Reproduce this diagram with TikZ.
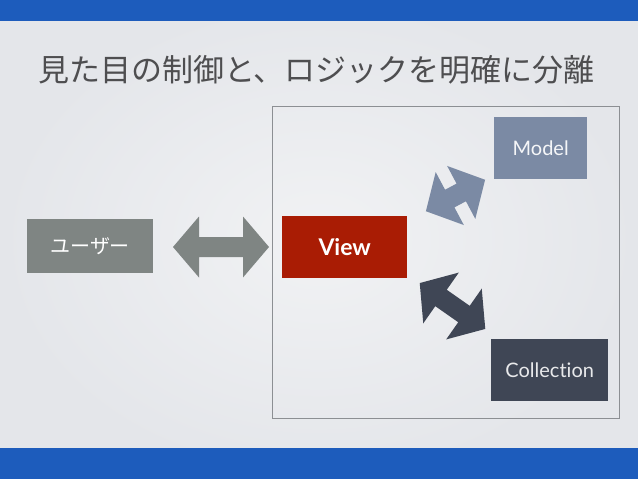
\documentclass[tikz,border=0pt]{standalone}
\usepackage{fontspec}
\setmainfont{Lato}[Ligatures={NoCommon}]
\newfontfamily\jp{Noto Sans CJK JP}
\definecolor{barblue}{HTML}{1D5CBC}
\definecolor{bgin}{HTML}{F1F2F4}
\definecolor{bgout}{HTML}{E4E6EA}
\definecolor{usergray}{HTML}{7F8583}
\definecolor{viewred}{HTML}{A91C04}
\definecolor{modelblue}{HTML}{7B8AA4}
\definecolor{colldark}{HTML}{3F4655}
\definecolor{titlegray}{HTML}{4E4E50}
\definecolor{framegray}{HTML}{8C8F93}
\tikzset{
  boxnode/.style={inner sep=0pt, anchor=north west, text=white},
  dblarrow/.style={fill=#1, draw=none}
}
\newcommand{\dblarr}[8]{% name, cx, cy, angle, L, h, w, color
  \coordinate (#1) at (#2,#3);
  \begin{scope}[shift={(#1)}, rotate=#4]
    \pgfmathsetmacro{\hL}{#5/2}
    \pgfmathsetmacro{\aa}{#5/2-#6}
    \fill[dblarrow=#8] (\hL,0) -- (\aa,#7) -- (\aa,10) -- (-\aa,10) -- (-\aa,#7) -- (-\hL,0)
      -- (-\aa,-#7) -- (-\aa,-10) -- (\aa,-10) -- (\aa,-#7) -- cycle;
  \end{scope}
}
\begin{document}
\begin{tikzpicture}[x=1pt,y=-1pt]
  \useasboundingbox (0,0) rectangle (638,479);
  \shade[inner color=bgin, outer color=bgout] (0,0) rectangle (638,479);
  \fill[barblue] (0,0) rectangle (638,21);
  \fill[barblue] (0,448) rectangle (638,479);
  \node[anchor=west, inner sep=0pt, text=titlegray, font=\jp\fontsize{31}{31}\selectfont] (title) at (38,70) {見た目の制御と、ロジックを明確に分離};
  \draw[framegray, line width=1pt] (272,106) rectangle (619,418);
  \node[boxnode, fill=usergray, minimum width=126pt, minimum height=54pt, font=\jp\fontsize{20}{20}\selectfont] (user) at (27,219) {ユーザー};
  \node[boxnode, fill=viewred, minimum width=125pt, minimum height=62pt, font=\fontsize{23}{23}\selectfont\bfseries] (view) at (282,216) {View};
  \node[boxnode, fill=modelblue, minimum width=93pt, minimum height=62pt, text=white!92!modelblue, font=\fontsize{20}{20}\selectfont] (model) at (494,117) {Model};
  \node[boxnode, fill=colldark, minimum width=117pt, minimum height=62pt, text=white!88!colldark, font=\fontsize{20}{20}\selectfont] (coll) at (491,339) {Collec\mbox{t}ion};
  \dblarr{ua}{221}{247}{0}{96}{26}{30.5}{usergray}
  \dblarr{ma}{455.5}{195.5}{28}{67}{27}{30}{modelblue}
  \dblarr{ca}{452.5}{306}{-35}{80}{26}{31}{colldark}
\end{tikzpicture}
\end{document}
